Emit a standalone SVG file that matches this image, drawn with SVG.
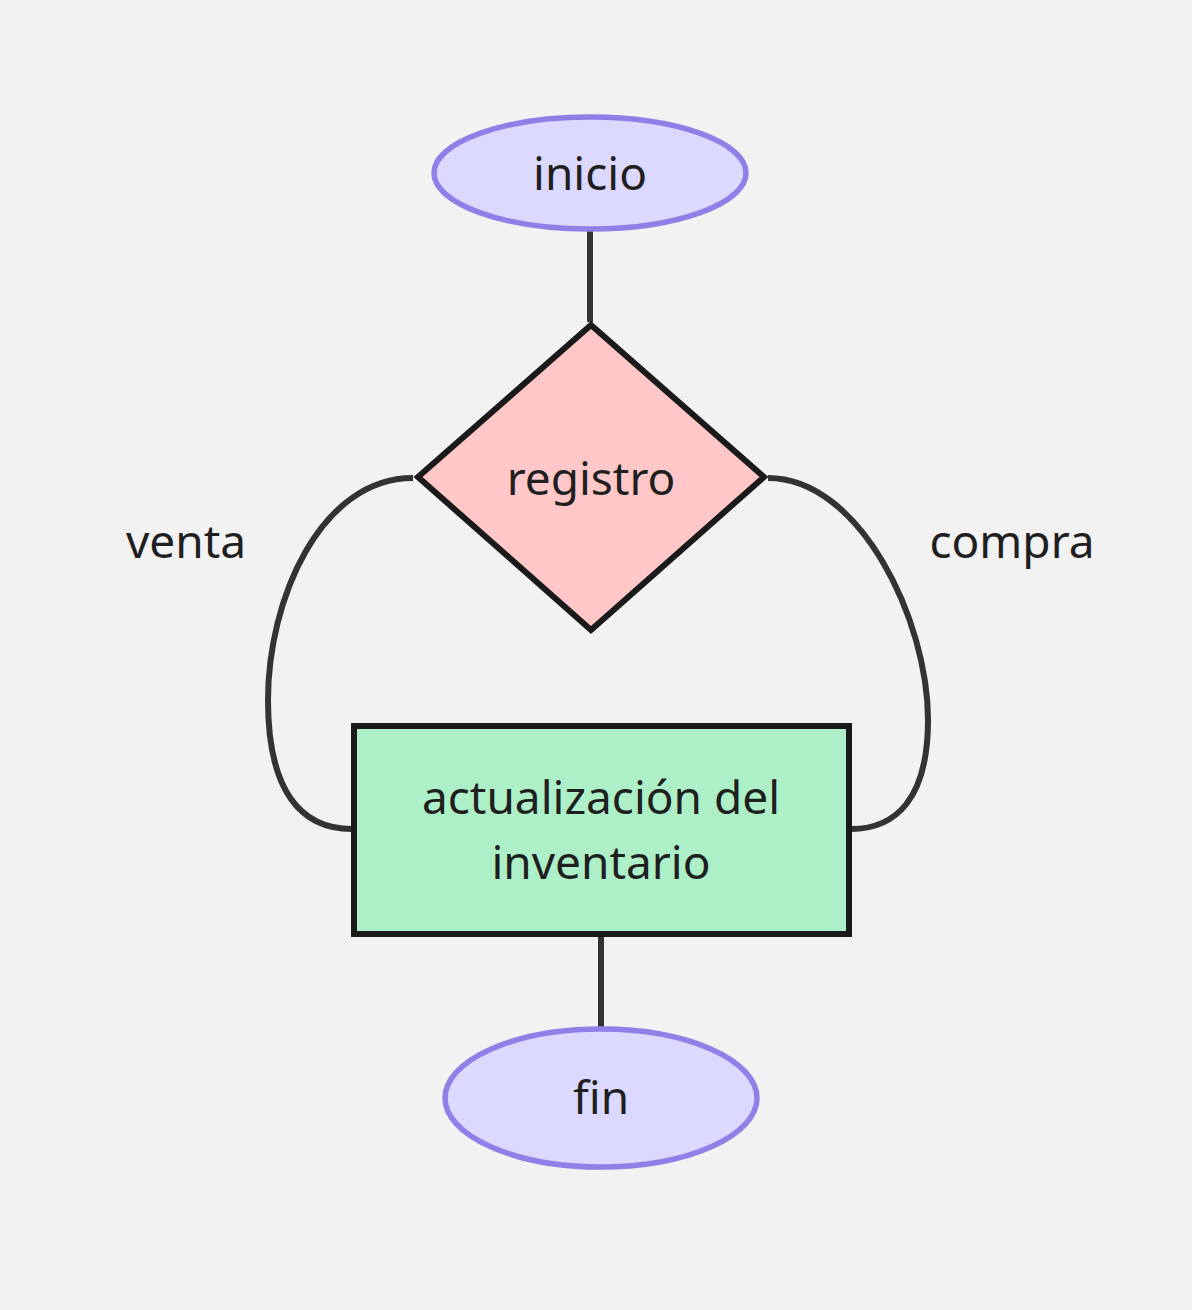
<svg xmlns="http://www.w3.org/2000/svg" width="1192" height="1310" viewBox="0 0 1192 1310">
<style>
.t{font-family:"Noto Sans","Open Sans","Liberation Sans",sans-serif;font-size:46px;fill:#1f1f1f;text-anchor:middle}
.term{fill:#dcd9ff;stroke:#8f80e8;stroke-width:5.5}
.edge{fill:none;stroke:#333333;stroke-width:6}
</style>
<rect x="0" y="0" width="1192" height="1310" fill="#f2f2f2"/>
<g id="connectors">
<line class="edge" x1="590" y1="229" x2="590" y2="322"/>
<path class="edge" d="M413,478 C320,478 268,600 268,700 C268,790 300,829 352,829"/>
<path class="edge" d="M768,478 C860,478 928,620 928,720 C928,800 895,829 851,829"/>
<line class="edge" x1="601" y1="934" x2="601" y2="1027"/>
<text class="t" x="186" y="558">venta</text>
<text class="t" x="1012" y="558">compra</text>
</g>
<g id="inicio">
<ellipse class="term" cx="590" cy="173" rx="156" ry="56"/>
<text class="t" x="590" y="190">inicio</text>
</g>
<g id="registro">
<polygon points="591,325 764,477 591,630 418,477" fill="#ffc7c7" stroke="#1a1a1a" stroke-width="6"/>
<text class="t" x="591" y="495">registro</text>
</g>
<g id="actualizacion">
<rect x="354" y="726" width="495" height="208" fill="#adf0c7" stroke="#1a1a1a" stroke-width="6"/>
<text class="t" x="601" y="814">actualización del</text>
<text class="t" x="601" y="879">inventario</text>
</g>
<g id="fin">
<ellipse class="term" cx="601" cy="1098" rx="156" ry="69"/>
<text class="t" x="601" y="1114">fin</text>
</g>
</svg>
